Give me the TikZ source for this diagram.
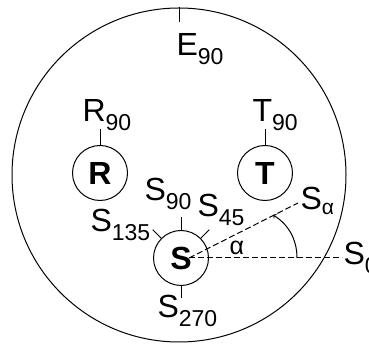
\documentclass[tikz,border=0pt]{standalone}
\usepackage{fontspec}
\setmainfont{Liberation Sans}
\usepackage{tikz}
\newcommand{\lowsub}[1]{\raisebox{-9pt}{\fontsize{23pt}{25pt}\selectfont #1}}
\tikzset{
 lab/.style={font=\fontsize{32pt}{36pt}\selectfont,inner sep=0pt,anchor=base west},
 disc/.style={circle,draw,line width=1pt,minimum size=55pt,inner sep=0pt,
  font=\bfseries\fontsize{32pt}{36pt}\selectfont},
 ray/.style={line width=1pt,dash pattern=on 6pt off 3pt}
}

\begin{document}
\begin{tikzpicture}[x=1pt,y=1pt,line width=1pt]
 \useasboundingbox (0,0) rectangle (369,344);
 % environment
 \node[circle,draw,line width=1pt,minimum size=334pt,inner sep=0pt] (E) at (179,169) {};
 \draw (E.90) -- ++(0,-15);
 \node[lab] (E90) at (176,288) {E\lowsub{90}};
 % robot and target
 \node[disc] (R) at (100,171) {R};
 \node[disc] (T) at (265,171) {T};
 \draw (R.90) -- ++(0,16);
 \draw (T.90) -- ++(0,16);
 \node[lab] (R90) at (82,222) {R\lowsub{90}};
 \node[lab] (T90) at (252,222) {T\lowsub{90}};
 % sensor
 \node[disc] (S) at (181,86) {S};
 \draw (S.90) -- ++(90:13);
 \draw (S.45) -- ++(45:12);
 \draw (S.135) -- ++(135:12);
 \draw (S.270) -- ++(270:12);
 \node[lab] (S90) at (144,143) {S\lowsub{90}};
 \node[lab] (S45) at (197,127) {S\lowsub{45}};
 \node[lab] (S135) at (90,112) {S\lowsub{135}};
 \node[lab] (S270) at (157,26) {S\lowsub{270}};
 % directions
 \coordinate (So) at ([xshift=8pt]S.center);
 \coordinate (Sa) at (298,141);
 \coordinate (Sz) at (342,86);
 \draw[ray] (So) -- (Sz);
 \draw[ray] (So) -- (Sa);
 \node[lab] (S0) at (343,79) {S\lowsub{0}};
 \node[lab] (Salpha) at (300,134) {S\raisebox{-5pt}{\fontsize{21pt}{24pt}\selectfont α}};
 \coordinate (a0) at (297,86);
 \coordinate (a1) at (273,129);
 \draw[->] (a0) .. controls (297,105) and (288,120) .. (a1);
 \node[lab,font=\fontsize{25pt}{28pt}\selectfont] (alpha) at (229,89) {α};
\end{tikzpicture}
\end{document}
